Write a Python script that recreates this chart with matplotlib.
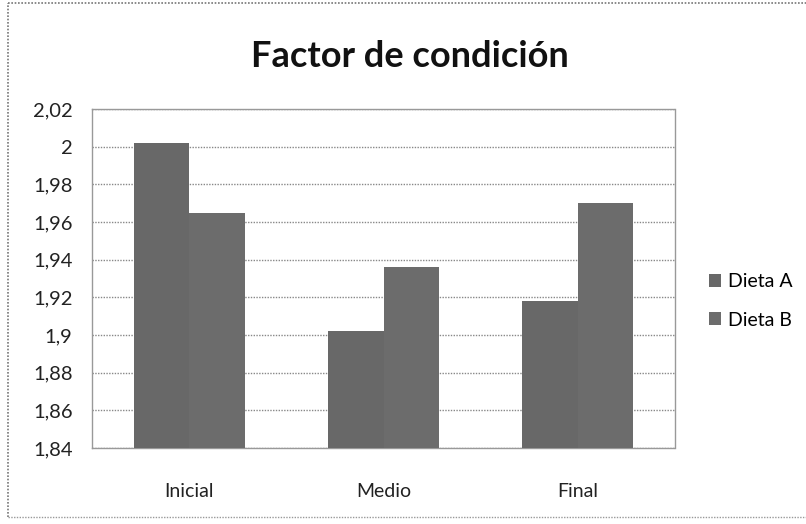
import matplotlib
matplotlib.use("Agg")
import matplotlib.pyplot as plt
from matplotlib.lines import Line2D
import numpy as np

plt.rcParams['font.family'] = ['Lato', 'DejaVu Sans']

categories = ["Inicial", "Medio", "Final"]
series_names = ["Dieta A", "Dieta B"]
dieta_a = [2.002, 1.902, 1.918]
dieta_b = [1.965, 1.936, 1.970]
yticks = [1.84, 1.86, 1.88, 1.90, 1.92, 1.94, 1.96, 1.98, 2.00, 2.02]
ytick_labels = ["1,84", "1,86", "1,88", "1,9", "1,92", "1,94", "1,96", "1,98", "2", "2,02"]
title = "Factor de condición"

fig = plt.figure(figsize=(8.06, 5.24), dpi=100)
fig.patch.set_facecolor("white")

# outer chart border
fig.add_artist(Line2D([8/806, 8/806], [7/524, 521/524], color="#777777", lw=1.2, ls=(0, (1, 1))))
fig.add_artist(Line2D([8/806, 1.0], [521/524, 521/524], color="#777777", lw=1.2, ls=(0, (1, 1))))
fig.add_artist(Line2D([8/806, 1.0], [7/524, 7/524], color="#999999", lw=1.0, ls=(0, (1, 1))))

ax = fig.add_axes([92/806, (524-448)/524, (675-92)/806, (448-109)/524])

x = np.arange(len(categories))
w = 1 / 3.5
ax.bar(x - w/2, dieta_a, width=w, color="#686868", label=series_names[0], zorder=3)
ax.bar(x + w/2, dieta_b, width=w, color="#6c6c6c", label=series_names[1], zorder=3)

ax.set_xlim(-0.5, len(categories) - 0.5)
ax.set_ylim(1.84, 2.02)
ax.set_yticks(yticks)
ax.set_yticklabels(ytick_labels, fontsize=14.5, color="#222222")
ax.set_xticks(x)
ax.set_xticklabels(categories, fontsize=14, color="#222222")
ax.tick_params(axis="y", length=0, pad=14)
ax.tick_params(axis="x", length=0, pad=25)

ax.grid(axis="y", color="#888888", lw=1.0, ls=(0, (1, 1)), zorder=0)
for s in ax.spines.values():
    s.set_color("#999999")
    s.set_linewidth(1.0)
    s.set_linestyle((0, (1, 1)))

fig.text(0.508, 0.892, title, ha="center", va="center", fontsize=26, fontweight="bold", color="#111111")

leg = ax.legend(loc="center left", bbox_to_anchor=(1.028, 0.434), frameon=False, fontsize=14,
                handlelength=0.65, handleheight=0.65, handletextpad=0.35, labelspacing=1.1)

fig.savefig("out.png", dpi=100)
